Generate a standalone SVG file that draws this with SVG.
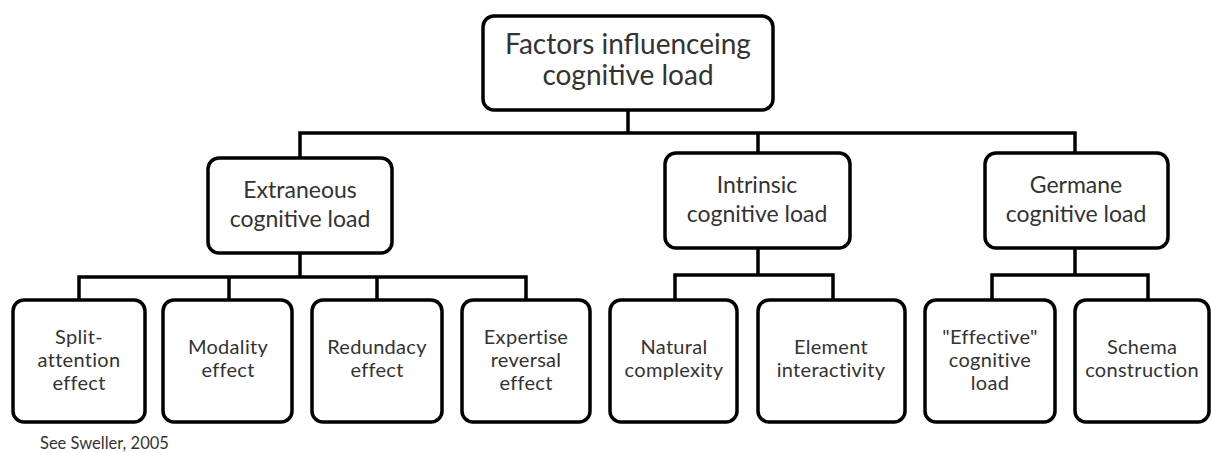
<svg xmlns="http://www.w3.org/2000/svg" width="1212" height="453" viewBox="0 0 1212 453">
<style>
.box{fill:#fff;stroke:#000;stroke-width:3.5}
.c{fill:none;stroke:#000;stroke-width:3.5;stroke-linejoin:miter}
text{font-family:Lato,"Liberation Sans",sans-serif;fill:#333;text-anchor:middle}
.t0{font-size:28px}
.t1{font-size:23px}
.t2{font-size:20px;letter-spacing:0.3px}
.note{font-size:16.5px;text-anchor:start}
</style>
<rect width="1212" height="453" fill="#fff"/>
<g id="connectors">
<path class="c" d="M628 110V133M300 157V133H1075V153M758 133V153"/>
<path class="c" d="M300 253V277M79 300V277H526V300M229 277V300M377 277V300"/>
<path class="c" d="M758 248V275M675 300V275H833V300"/>
<path class="c" d="M1075 248V275M992 300V275H1148V300"/>
</g>
<g id="root"><rect class="box" x="483" y="16" width="290" height="94" rx="11"/><text class="t0" x="628" y="54">Factors influenceing</text><text class="t0" x="628" y="85">cognitive load</text></g>
<g id="extraneous"><rect class="box" x="208" y="158" width="184" height="95" rx="11"/><text class="t1" x="300" y="198">Extraneous</text><text class="t1" x="300" y="227">cognitive load</text></g>
<g id="intrinsic"><rect class="box" x="665" y="153" width="185" height="95" rx="11"/><text class="t1" x="757" y="193">Intrinsic</text><text class="t1" x="757" y="222">cognitive load</text></g>
<g id="germane"><rect class="box" x="985" y="153" width="183" height="95" rx="11"/><text class="t1" x="1076" y="193">Germane</text><text class="t1" x="1076" y="222">cognitive load</text></g>
<g id="split"><rect class="box" x="13" y="300" width="132" height="122" rx="11"/><text class="t2" x="79" y="344">Split-</text><text class="t2" x="79" y="367">attention</text><text class="t2" x="79" y="390">effect</text></g>
<g id="modality"><rect class="box" x="163" y="300" width="129" height="122" rx="11"/><text class="t2" x="228" y="354">Modality</text><text class="t2" x="228" y="377">effect</text></g>
<g id="redundancy"><rect class="box" x="312" y="300" width="130" height="122" rx="11"/><text class="t2" x="377" y="354">Redundacy</text><text class="t2" x="377" y="377">effect</text></g>
<g id="expertise"><rect class="box" x="462" y="300" width="128" height="122" rx="11"/><text class="t2" x="526" y="344">Expertise</text><text class="t2" x="526" y="367">reversal</text><text class="t2" x="526" y="390">effect</text></g>
<g id="natural"><rect class="box" x="610" y="300" width="127" height="122" rx="11"/><text class="t2" x="674" y="354">Natural</text><text class="t2" x="674" y="377">complexity</text></g>
<g id="element"><rect class="box" x="758" y="300" width="147" height="122" rx="11"/><text class="t2" x="831" y="354">Element</text><text class="t2" x="831" y="377">interactivity</text></g>
<g id="effective"><rect class="box" x="925" y="300" width="130" height="122" rx="11"/><text class="t2" x="990" y="344">"Effective"</text><text class="t2" x="990" y="367">cognitive</text><text class="t2" x="990" y="390">load</text></g>
<g id="schema"><rect class="box" x="1075" y="300" width="134" height="122" rx="11"/><text class="t2" x="1142" y="354">Schema</text><text class="t2" x="1142" y="377">construction</text></g>
<text class="note" x="40" y="449">See Sweller, 2005</text>
</svg>
